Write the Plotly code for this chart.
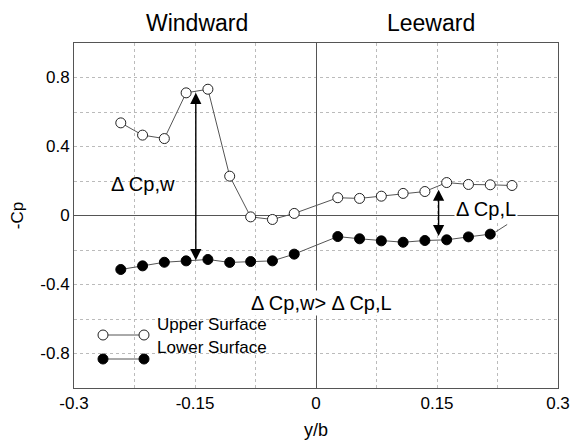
import plotly.graph_objects as go

# Data
y_upper = [-0.242, -0.215, -0.188, -0.161, -0.134, -0.107, -0.081, -0.054, -0.027,
           0.027, 0.054, 0.081, 0.108, 0.135, 0.162, 0.189, 0.216, 0.243]
cp_upper = [0.537, 0.466, 0.446, 0.711, 0.732, 0.228, -0.008, -0.023, 0.012,
            0.103, 0.099, 0.112, 0.128, 0.139, 0.191, 0.180, 0.178, 0.174]
y_lower = [-0.242, -0.215, -0.188, -0.161, -0.134, -0.107, -0.081, -0.054, -0.027,
           0.027, 0.054, 0.081, 0.108, 0.135, 0.162, 0.189, 0.216]
cp_lower = [-0.313, -0.292, -0.271, -0.263, -0.255, -0.272, -0.267, -0.263, -0.224,
            -0.122, -0.135, -0.147, -0.155, -0.145, -0.141, -0.124, -0.108]

x_ticks = [-0.3, -0.15, 0, 0.15, 0.3]
x_ticklabels = ["-0.3", "-0.15", "0", "0.15", "0.3"]
y_ticks = [-0.8, -0.4, 0, 0.4, 0.8]
y_ticklabels = ["-0.8", "-0.4", "0", "0.4", "0.8"]

FONT = "Liberation Sans, Arial, sans-serif"
LINEC = "#555555"

fig = go.Figure()
fig.add_trace(go.Scatter(
    x=y_upper, y=cp_upper, mode="lines+markers", name="Upper Surface",
    line=dict(color="#555555", width=1),
    marker=dict(symbol="circle", size=10, color="white", line=dict(color="#222222", width=1)),
    showlegend=False))
fig.add_trace(go.Scatter(
    x=y_lower, y=cp_lower, mode="lines+markers", name="Lower Surface",
    line=dict(color="#555555", width=1),
    marker=dict(symbol="circle", size=10, color="black", line=dict(color="black", width=1)),
    showlegend=False))

grid = dict(showgrid=True, gridcolor="#bbbbbb", griddash="dot", gridwidth=1)
fig.update_xaxes(range=[-0.3, 0.3], tickvals=x_ticks, ticktext=x_ticklabels,
                 showline=True, linecolor=LINEC, mirror=True, ticks="", automargin=False,
                 zeroline=True, zerolinecolor=LINEC, zerolinewidth=1,
                 minor=dict(dtick=0.075, tick0=0, showgrid=True, gridcolor="#bbbbbb", griddash="dot"),
                 tickfont=dict(size=17, color="black"),
                 title=dict(text="y/b", font=dict(size=18, color="black"), standoff=10),
                 **grid)
fig.update_yaxes(range=[-1, 1], tickvals=y_ticks, ticktext=y_ticklabels,
                 showline=True, linecolor=LINEC, mirror=True, ticks="", automargin=False,
                 zeroline=True, zerolinecolor=LINEC, zerolinewidth=1,
                 minor=dict(dtick=0.2, tick0=0, showgrid=True, gridcolor="#bbbbbb", griddash="dot"),
                 tickfont=dict(size=17, color="black"),
                 title=dict(text="-Cp", font=dict(size=17, color="black"), standoff=14),
                 **grid)

ann = []
# section titles
ann.append(dict(text="Windward", x=-0.147, y=1.0, xref="x", yref="paper", yanchor="bottom",
                yshift=5, showarrow=False, font=dict(size=23, color="black")))
ann.append(dict(text="Leeward", x=0.142, y=1.0, xref="x", yref="paper", yanchor="bottom",
                yshift=5, showarrow=False, font=dict(size=23, color="black")))
# double arrows
for xa, y0, y1 in [(-0.149, 0.712, -0.268), (0.152, 0.150, -0.128)]:
    ann.append(dict(x=xa, y=y0, ax=xa, ay=y1, xref="x", yref="y", axref="x", ayref="y",
                    text="", showarrow=True, arrowhead=2, startarrowhead=2,
                    arrowside="end+start", arrowsize=1.6, startarrowsize=1.6,
                    arrowwidth=1.4, arrowcolor="black"))
# labels
ann.append(dict(text="Δ Cp,w", x=-0.214, y=0.184, xref="x", yref="y", showarrow=False,
                font=dict(size=20, color="black")))
ann.append(dict(text="Δ Cp,L", x=0.211, y=0.039, xref="x", yref="y", showarrow=False,
                bgcolor="white", font=dict(size=20, color="black")))
ann.append(dict(text="Δ Cp,w> Δ Cp,L", x=0.007, y=-0.51, xref="x", yref="y", showarrow=False,
                bgcolor="white", font=dict(size=20, color="black")))
# legend text
ann.append(dict(text="Upper Surface", x=(155 - 74) / 484, y=(388 - 336) / 345, xref="paper", yref="paper",
                xanchor="left", showarrow=False, font=dict(size=17, color="black")))
ann.append(dict(text="Lower Surface", x=(155 - 74) / 484, y=(388 - 359) / 345, xref="paper", yref="paper",
                xanchor="left", showarrow=False, font=dict(size=17, color="black")))

shapes = []
# leader line near ΔCp,L
shapes.append(dict(type="line", xref="x", yref="y", x0=0.222, y0=-0.097, x1=0.237, y1=-0.052,
                   line=dict(color="#555555", width=1)))
# custom legend symbols
for py, fill in [(335, "white"), (359, "black")]:
    yp = (388 - py) / 345
    xa = (103 - 74) / 484
    xb = (144 - 74) / 484
    shapes.append(dict(type="line", xref="paper", yref="paper", x0=xa, x1=xb, y0=yp, y1=yp,
                       line=dict(color="#555555", width=1)))
    for xc in (xa, xb):
        shapes.append(dict(type="circle", xref="paper", yref="paper",
                           xsizemode="pixel", ysizemode="pixel", xanchor=xc, yanchor=yp,
                           x0=-5, x1=5, y0=-5, y1=5, fillcolor=fill,
                           line=dict(color="#222222" if fill == "white" else "black", width=1)))

# page body has an 8px default margin, so the figure is offset by 8px
fig.update_layout(
    width=572, height=434,
    margin=dict(l=66, r=22, t=35, b=54),
    paper_bgcolor="white", plot_bgcolor="white",
    font=dict(family=FONT, color="black"),
    annotations=ann, shapes=shapes,
    showlegend=False,
)

fig.write_html("out.html")
